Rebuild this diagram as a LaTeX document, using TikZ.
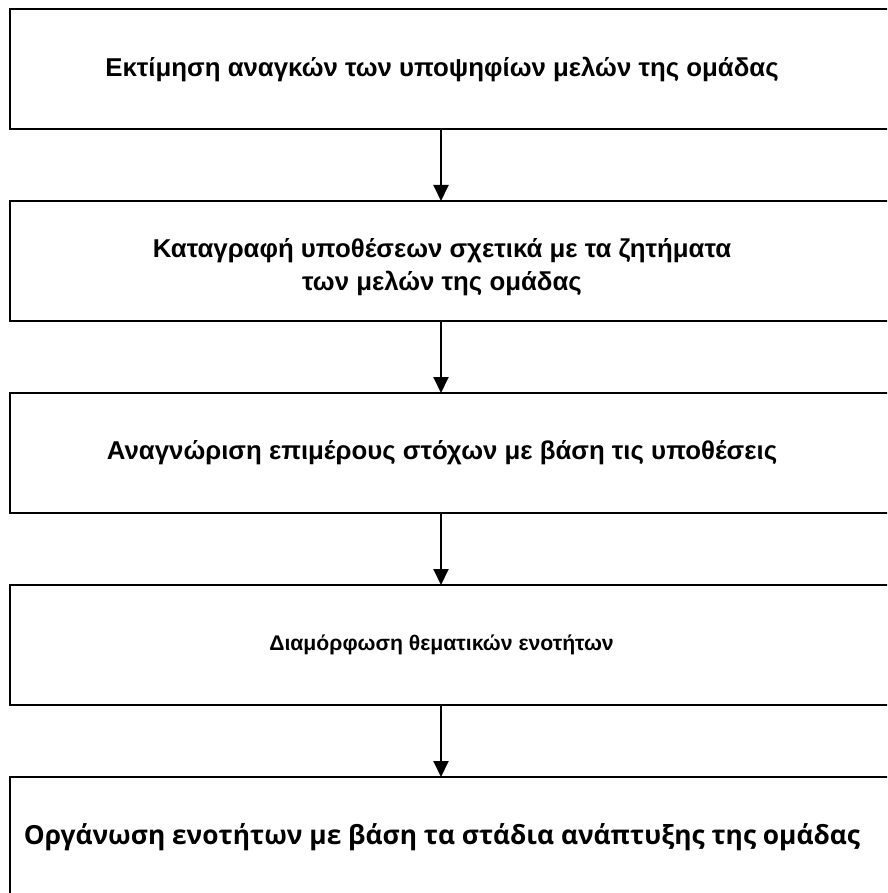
\documentclass[tikz,border=0pt]{standalone}
\usepackage{fontspec}
\setmainfont{Liberation Sans}
\newfontfamily\boxfontb{Open Sans}
\usetikzlibrary{arrows.meta}
\tikzset{
  stepbox/.style={draw=black, line width=2pt},
  steptext/.style={font=\bfseries\fontsize{25.8}{33}\selectfont, align=center, inner sep=0pt},
  flowarrow/.style={line width=2pt, -{Triangle[width=15pt,length=16pt]}}
}
\begin{document}
\begin{tikzpicture}[x=1pt,y=-1pt]
\useasboundingbox (0,0) rectangle (887,893);
\begin{scope}
\clip (0,0) rectangle (887,893);
\draw[stepbox] (9.5,9) rectangle (900,129);
\draw[stepbox] (9.5,201) rectangle (900,321);
\draw[stepbox] (9.5,393) rectangle (900,513);
\draw[stepbox] (9.5,585) rectangle (900,705);
\draw[stepbox] (9.5,777) rectangle (900,905);
\end{scope}
\node[steptext] (t1) at (442,69) {Εκτίμηση αναγκών των υποψηφίων μελών της ομάδας};
\node[steptext] (t2) at (442,267) {Καταγραφή υποθέσεων σχετικά με τα ζητήματα\\των μελών της ομάδας};
\node[steptext] (t3) at (442,453) {Αναγνώριση επιμέρους στόχων με βάση τις υποθέσεις};
\node[steptext, font=\bfseries\fontsize{21.2}{27}\selectfont] (t4) at (441.5,645) {Διαμόρφωση θεματικών ενοτήτων};
\node[steptext, font=\boxfontb\bfseries\fontsize{26.3}{33}\selectfont] (t5) at (442,837) {Οργάνωση ενοτήτων με βάση τα στάδια ανάπτυξης της ομάδας};
\coordinate (a1s) at (441,129); \coordinate (a1e) at (441,201);
\coordinate (a2s) at (441,321); \coordinate (a2e) at (441,393);
\coordinate (a3s) at (441,513); \coordinate (a3e) at (441,585);
\coordinate (a4s) at (441,705); \coordinate (a4e) at (441,777);
\draw[flowarrow] (a1s) -- (a1e);
\draw[flowarrow] (a2s) -- (a2e);
\draw[flowarrow] (a3s) -- (a3e);
\draw[flowarrow] (a4s) -- (a4e);
\end{tikzpicture}
\end{document}
